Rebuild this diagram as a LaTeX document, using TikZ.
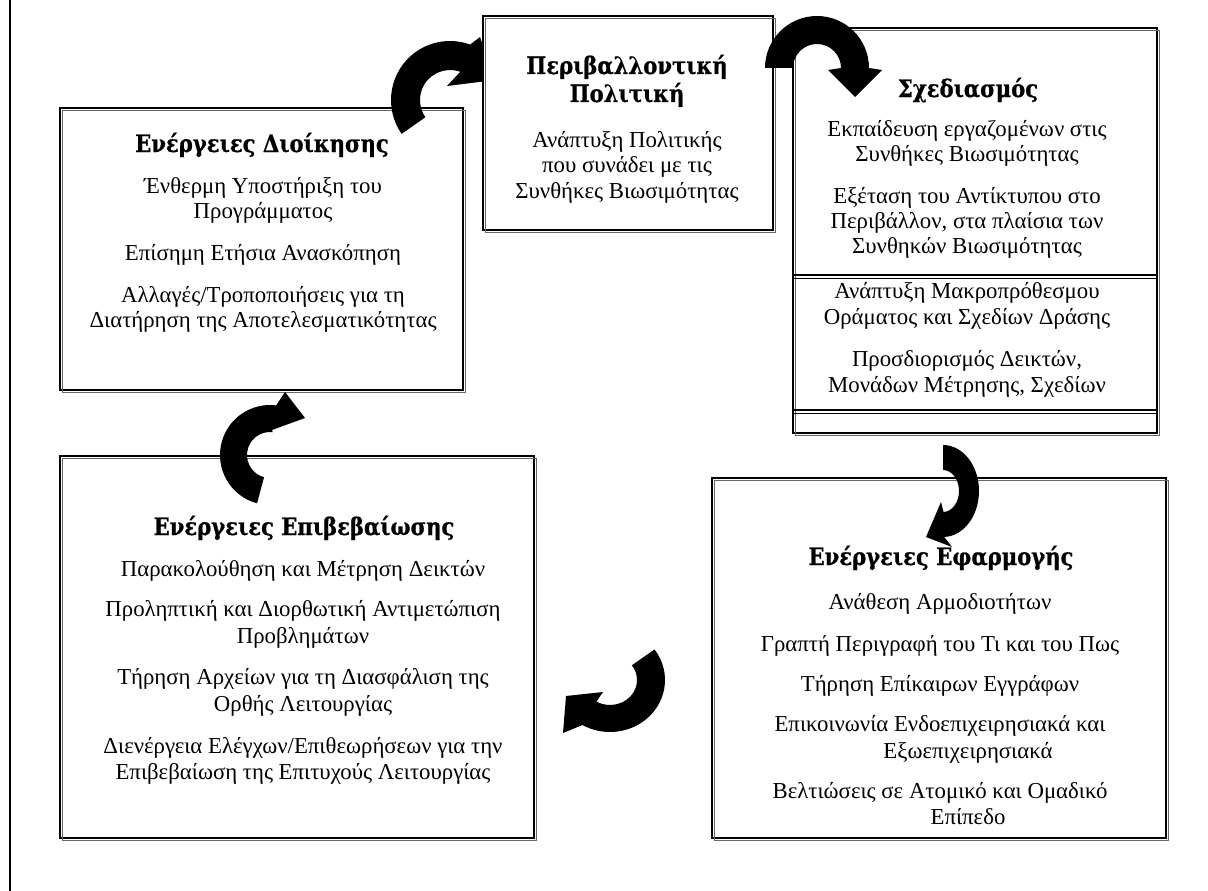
\documentclass[tikz,border=0pt]{standalone}
\usepackage{fontspec}
\setmainfont{Liberation Serif}
\newfontfamily\titlefont{DejaVu Serif Bold}[FakeStretch=0.88,FakeBold=0.8]
\usetikzlibrary{calc}
\newcommand\bodyfnt{\fontsize{22.8}{25}\selectfont}
\newcommand\headfnt{\titlefont\fontsize{24}{28}\selectfont}
\tikzset{
  panel/.style={draw=black, line width=1.8pt, fill=white, inner sep=0pt, outer sep=0pt},
  panelshadow/.style={draw=black!60, line width=1.6pt},
  body/.style={font=\bodyfnt, inner sep=0pt, anchor=base},
  head/.style={font=\headfnt, inner sep=0pt, anchor=base},
  cyc/.style={fill=black},
  sepline/.style={draw=black, line width=1.1pt},
  frameline/.style={draw=black, line width=2pt}
}
\begin{document}
\begin{tikzpicture}[x=1pt, y=-1pt]
\useasboundingbox (0,0) rectangle (1208,891);
\fill[white] (0,0) rectangle (1208,891);
\draw[frameline] (10,0) -- (10,891);

% ---------- Box 1 : Ενέργειες Διοίκησης
\node[panel, minimum width=403pt, minimum height=282pt] (p1) at (261.5,249) {};
\draw[panelshadow] ([shift={(2.5,2.5)}]p1.north west) rectangle ([shift={(2.5,2.5)}]p1.south east);
\node[head] (p1t) at (262,152) {Ενέργειες Διοίκησης};
\node[body] (p1a) at (263,193) {Ένθερμη Υποστήριξη του};
\node[body] (p1b) at (263,218) {Προγράμματος};
\node[body] (p1c) at (263,260) {Επίσημη Ετήσια Ανασκόπηση};
\node[body] (p1d) at (263,302) {Αλλαγές/Τροποποιήσεις για τη};
\node[body] (p1e) at (263,327) {Διατήρηση της Αποτελεσματικότητας};

% arrow A : box1 -> box2
\fill[cyc] ($(450,100)+(145:59)$) arc[start angle=145, end angle=290, radius=59]
  -- (480,37) -- (495,80) -- (447,86)
  -- ($(450,100)+(290:30)$) arc[start angle=290, end angle=145, radius=30] -- cycle;

% ---------- Box 2 : Περιβαλλοντική Πολιτική
\node[panel, minimum width=290pt, minimum height=214pt] (p2) at (628,123) {};
\draw[panelshadow] ([shift={(2.5,2.5)}]p2.north west) rectangle ([shift={(2.5,2.5)}]p2.south east);
\node[head] (p2t) at (627,74) {Περιβαλλοντική};
\node[head] (p2u) at (627,102) {Πολιτική};
\node[body] (p2a) at (627,147) {Ανάπτυξη Πολιτικής};
\node[body] (p2b) at (627,172) {που συνάδει με τις};
\node[body] (p2c) at (627,198) {Συνθήκες Βιωσιμότητας};

% ---------- Box 3 : Σχεδιασμός
\node[panel, minimum width=364pt, minimum height=405pt] (p3) at (975,230.5) {};
\draw[panelshadow] ([shift={(2.5,2.5)}]p3.north west) rectangle ([shift={(2.5,2.5)}]p3.south east);
\node[head] (p3t) at (968,97) {Σχεδιασμός};
\node[body] (p3a) at (967,136) {Εκπαίδευση εργαζομένων στις};
\node[body] (p3b) at (967,161) {Συνθήκες Βιωσιμότητας};
\node[body] (p3c) at (967,203) {Εξέταση του Αντίκτυπου στο};
\node[body] (p3d) at (967,228) {Περιβάλλον, στα πλαίσια των};
\node[body] (p3e) at (967,253) {Συνθηκών Βιωσιμότητας};
\draw[sepline] ([yshift=-247pt]p3.north west) -- ([yshift=-247pt]p3.north east);
\draw[sepline] ([yshift=-250.5pt]p3.north west) -- ([yshift=-250.5pt]p3.north east);
\node[body] (p3f) at (967,298) {Ανάπτυξη Μακροπρόθεσμου};
\node[body] (p3g) at (967,324) {Οράματος και Σχεδίων Δράσης};
\node[body] (p3h) at (967,366) {Προσδιορισμός Δεικτών,};
\node[body] (p3i) at (967,392) {Μονάδων Μέτρησης, Σχεδίων};
\draw[sepline] ([yshift=-382pt]p3.north west) -- ([yshift=-382pt]p3.north east);
\draw[sepline] ([yshift=-385.5pt]p3.north west) -- ([yshift=-385.5pt]p3.north east);

% arrow B : box2 -> box3
\fill[cyc] ($(817,68)+(180:52)$) arc[start angle=180, end angle=360, radius=52]
  -- (882,70) -- (855,97) -- (828,70)
  -- ($(817,68)+(0:24)$) arc[start angle=360, end angle=180, radius=24] -- cycle;

% ---------- Box 4 : Ενέργειες Εφαρμογής
\node[panel, minimum width=454pt, minimum height=360pt] (p4) at (939,658) {};
\draw[panelshadow] ([shift={(2.5,2.5)}]p4.north west) rectangle ([shift={(2.5,2.5)}]p4.south east);
\node[head] (p4t) at (941,565) {Ενέργειες Εφαρμογής};
\node[body] (p4a) at (940,609) {Ανάθεση Αρμοδιοτήτων};
\node[body] (p4b) at (940,651) {Γραπτή Περιγραφή του Τι και του Πως};
\node[body] (p4c) at (940,691) {Τήρηση Επίκαιρων Εγγράφων};
\node[body] (p4d) at (940,731) {Επικοινωνία Ενδοεπιχειρησιακά και};
\node[body] (p4e) at (968,758) {Εξωεπιχειρησιακά};
\node[body] (p4f) at (940,798) {Βελτιώσεις σε Ατομικό και Ομαδικό};
\node[body] (p4g) at (968,824) {Επίπεδο};

% arrow C : box3 -> box4
\fill[cyc] ($(943,491)+(-90:36 and 46)$) arc[start angle=-90, end angle=88, x radius=36, y radius=46]
  -- (952,547) -- (926,537) -- (941,502)
  -- ($(943,491)+(88:16 and 21)$) arc[start angle=88, end angle=-90, x radius=16, y radius=21] -- cycle;

% ---------- Box 5 : Ενέργειες Επιβεβαίωσης
\node[panel, minimum width=474pt, minimum height=382pt] (p5) at (297,647) {};
\draw[panelshadow] ([shift={(2.5,2.5)}]p5.north west) rectangle ([shift={(2.5,2.5)}]p5.south east);
\node[head] (p5t) at (304,535) {Ενέργειες Επιβεβαίωσης};
\node[body] (p5a) at (303,576) {Παρακολούθηση και Μέτρηση Δεικτών};
\node[body] (p5b) at (303,616) {Προληπτική και Διορθωτική Αντιμετώπιση};
\node[body] (p5c) at (303,643) {Προβλημάτων};
\node[body] (p5d) at (303,684) {Τήρηση Αρχείων για τη Διασφάλιση της};
\node[body] (p5e) at (303,711) {Ορθής Λειτουργίας};
\node[body] (p5f) at (303,753) {Διενέργεια Ελέγχων/Επιθεωρήσεων για την};
\node[body] (p5g) at (303,779) {Επιβεβαίωση της Επιτυχούς Λειτουργίας};

% arrow E : box5 -> box1
\fill[cyc] ($(270,455)+(105:50)$) arc[start angle=105, end angle=277, radius=50]
  -- (285,392) -- (305,418) -- (272,430)
  -- ($(270,455)+(277:23)$) arc[start angle=277, end angle=105, radius=23] -- cycle;

% arrow D : box4 -> box5
\fill[cyc] ($(610,680)+(-36:55 and 52)$) arc[start angle=-36, end angle=120, x radius=55, y radius=52]
  -- (563,733) -- (566,696) -- (603,692)
  -- ($(610,680)+(120:27 and 25)$) arc[start angle=120, end angle=-36, x radius=27, y radius=25] -- cycle;
\end{tikzpicture}
\end{document}
